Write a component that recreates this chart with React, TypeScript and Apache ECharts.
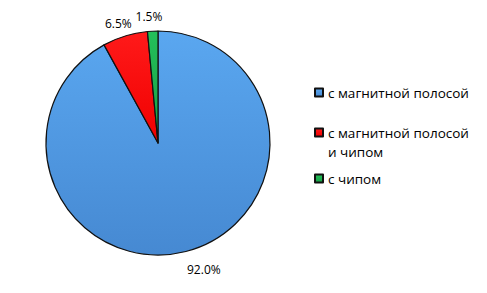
import React, { useEffect, useRef } from "react";
import * as echarts from "echarts";

const categories = ["с магнитной полосой", "с магнитной полосой и чипом", "с чипом"];
const legendLabels = ["с магнитной полосой", " \nс магнитной полосой\nи чипом", "с чипом"];
const values = [92.0, 6.5, 1.5];
const colorsTop = ["#5aa7f0", "#ff1a1a", "#24c05a"];
const colorsBottom = ["#4689d2", "#f00000", "#17a045"];

export default function App() {
  const ref = useRef<HTMLDivElement>(null);
  useEffect(() => {
    const chart = echarts.init(ref.current!, null, { renderer: "svg" });
    const font = "Open Sans";
    const legendTops = [78, 99, 164];
    const labelOffsets = [[14, 3], [-2, 3], [-3, 1]];
    const grad = (i: number) =>
      new echarts.graphic.LinearGradient(0, 0, 0, 1, [
        { offset: 0, color: colorsTop[i] },
        { offset: 1, color: colorsBottom[i] },
      ]);
    chart.setOption({
      animation: false,
      backgroundColor: "#ffffff",
      legend: categories.map((c, i) => ({
        orient: "vertical",
        left: 309,
        top: legendTops[i],
        data: [c],
        itemWidth: 8,
        itemHeight: 8,
        itemGap: 4,
        icon: "rect",
        selectedMode: false,
        formatter: () => legendLabels[i],
        textStyle: {
          fontFamily: font,
          fontSize: 13.5,
          color: "#000",
          lineHeight: 19,
        },
      })),
      series: [
        {
          type: "pie",
          center: [158, 143],
          radius: 112,
          startAngle: 90,
          clockwise: true,
          silent: true,
          data: categories.map((c, i) => ({
            name: c,
            value: values[i],
            itemStyle: { color: grad(i) },
          })),
          itemStyle: { borderColor: "#111", borderWidth: 1.2 },
          label: { show: false },
          labelLine: { show: false },
        },
        {
          type: "pie",
          center: [158, 143],
          radius: [112, 138],
          startAngle: 90,
          clockwise: true,
          silent: true,
          data: categories.map((c, i) => ({
            name: c,
            value: values[i],
            label: { offset: labelOffsets[i] },
          })),
          itemStyle: { color: "rgba(0,0,0,0)", borderWidth: 0 },
          label: {
            show: true,
            position: "inside",
            fontFamily: font,
            fontSize: 12,
            color: "#000",
            formatter: (p: any) => values[p.dataIndex].toFixed(1) + "%",
          },
          labelLine: { show: false },
        },
      ],
    });
    return () => chart.dispose();
  }, []);
  return (
    <div
      ref={ref}
      style={{ position: "fixed", left: 0, top: 0, width: 487, height: 293 }}
    />
  );
}
